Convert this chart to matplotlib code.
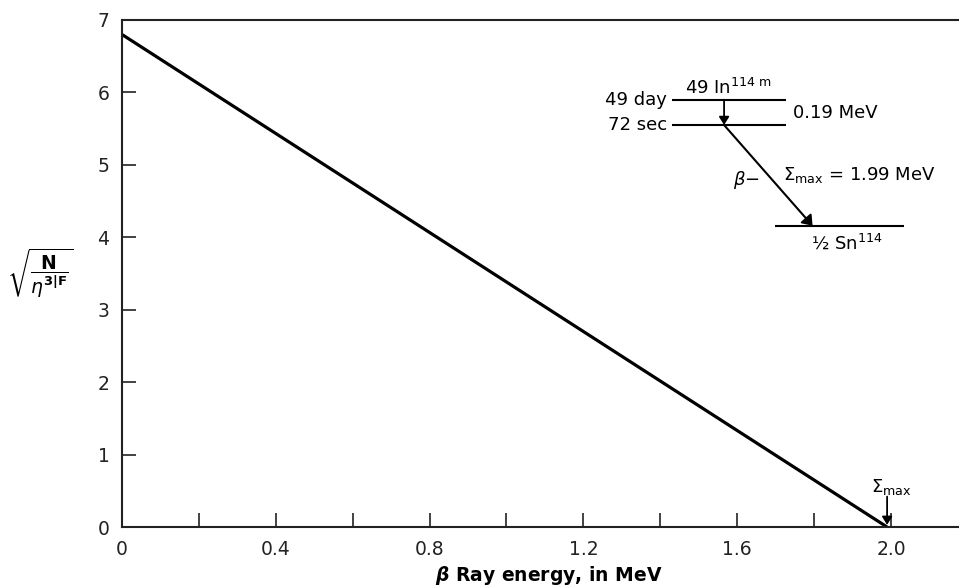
import matplotlib
matplotlib.use("Agg")
import matplotlib.pyplot as plt

# Kurie plot for In-114m -> Sn-114 beta decay
energy = [0.0, 1.99]          # MeV
kurie = [6.8, 0.0]            # sqrt(N / eta^2 F)
e_max = 1.99

x_ticks = [0.2, 0.4, 0.6, 0.8, 1.0, 1.2, 1.4, 1.6, 1.8, 2.0]
x_labels = ["", "0.4", "", "0.8", "", "1.2", "", "1.6", "", "2.0"]
y_ticks = [1, 2, 3, 4, 5, 6]

# decay scheme levels (drawn in data units of the plot)
level_49day = 5.90
level_72sec = 5.55
level_sn = 4.16
level_x = (1.430, 1.727)
sn_x = (1.698, 2.034)
gamma_x = 1.566
beta_end_x = 1.796

plt.rcParams['font.family'] = ['DejaVu Sans']
fig = plt.figure(figsize=(9.59, 5.88), dpi=100)
ax = fig.add_axes([0.1272, 0.1037, 0.8728, 0.8623])

ax.plot(energy, kurie, color='black', lw=2.3, solid_capstyle='butt')

ax.set_xlim(0, 2.177)
ax.set_ylim(0, 7)
ax.spines['right'].set_visible(False)
for s in ('left', 'bottom', 'top'):
    ax.spines[s].set_linewidth(1.5)
    ax.spines[s].set_color('#222222')

ax.set_xticks([0] + x_ticks)
ax.set_xticklabels(["0"] + x_labels)
ax.set_yticks([0] + y_ticks + [7])
ax.tick_params(direction='in', length=10, width=1.2, labelsize=13.5, pad=9, colors='#222222')
# hide the end ticks at the corners
ax.xaxis.get_major_ticks()[0].tick1line.set_visible(False)
ax.yaxis.get_major_ticks()[0].tick1line.set_visible(False)
ax.yaxis.get_major_ticks()[-1].tick1line.set_visible(False)
ax.xaxis.set_ticks_position('bottom')

ax.set_xlabel(r'$\boldsymbol{\beta}$ Ray energy, in MeV', fontsize=13.5, fontweight='bold')
ax.xaxis.set_label_coords(0.51, -0.073)

fig.text(0.042, 0.535, r'$\sqrt{\dfrac{\mathbf{N}}{\eta^{\mathbf{3|F}}}}$', fontsize=13.5,
         ha='center', va='center')

# decay scheme
ax.hlines([level_49day, level_72sec], level_x[0], level_x[1], color='black', lw=1.5)
ax.hlines(level_sn, sn_x[0], sn_x[1], color='black', lw=1.5)
ax.annotate('', xy=(gamma_x, level_72sec), xytext=(gamma_x, level_49day),
            arrowprops=dict(arrowstyle='-|>,head_width=0.25', color='black', lw=1.3,
                            mutation_scale=12, shrinkA=0, shrinkB=0))
ax.annotate('', xy=(beta_end_x, level_sn), xytext=(gamma_x, level_72sec),
            arrowprops=dict(arrowstyle='-|>,head_width=0.3', color='black', lw=1.5,
                            mutation_scale=14, shrinkA=0, shrinkB=0))

fs = 13
ax.text((level_x[0] + level_x[1]) / 2, 6.06, r'49 In$^{114\ \mathrm{m}}$', fontsize=fs,
        ha='center', va='center')
ax.text(level_x[0] - 0.012, level_49day, '49 day', fontsize=fs, ha='right', va='center')
ax.text(level_x[0] - 0.012, level_72sec, '72 sec', fontsize=fs, ha='right', va='center')
ax.text(1.745, 5.72, '0.19 MeV', fontsize=fs, ha='left', va='center')
ax.text(1.625, 4.79, r'$\beta$−', fontsize=fs, ha='center', va='center')
ax.text(1.719, 4.86, r'$\Sigma_{\mathrm{max}}$ = %.2f MeV' % e_max, fontsize=fs,
        ha='left', va='center')
ax.text(1.886, 3.92, r'½ Sn$^{114}$', fontsize=fs, ha='center', va='center')

# end point marker
ax.annotate('', xy=(e_max, 0.03), xytext=(e_max, 0.42),
            arrowprops=dict(arrowstyle='-|>,head_width=0.25', color='black', lw=1.3,
                            mutation_scale=12, shrinkA=0, shrinkB=0))
ax.text(e_max + 0.01, 0.55, r'$\Sigma_{\mathrm{max}}$', fontsize=fs, ha='center', va='center')

fig.savefig('out.png', dpi=100)
